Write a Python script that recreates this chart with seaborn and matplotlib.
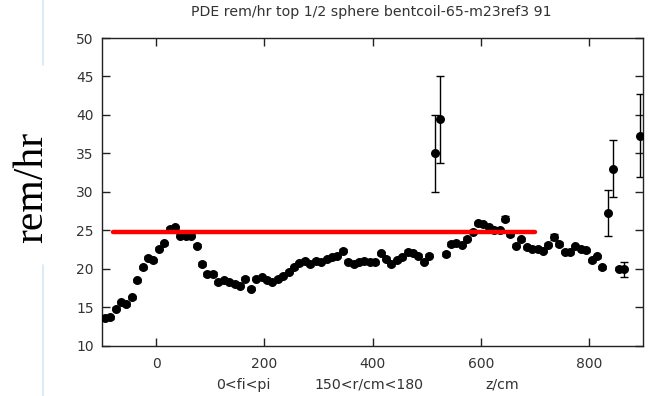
import numpy as np
import pandas as pd
import matplotlib
matplotlib.use("Agg")
import matplotlib.pyplot as plt
from matplotlib.lines import Line2D
import seaborn as sns

# bin centres along z (cm)
z_cm = [-95, -85, -75, -65, -55, -45, -35, -25, -15, -5,
        5, 15, 25, 35, 45, 55, 65, 75, 85, 95,
        105, 115, 125, 135, 145, 155, 165, 175, 185, 195,
        205, 215, 225, 235, 245, 255, 265, 275, 285, 295,
        305, 315, 325, 335, 345, 355, 365, 375, 385, 395,
        405, 415, 425, 435, 445, 455, 465, 475, 485, 495,
        505, 515, 525, 535, 545, 555, 565, 575, 585, 595,
        605, 615, 625, 635, 645, 655, 665, 675, 685, 695,
        705, 715, 725, 735, 745, 755, 765, 775, 785, 795,
        805, 815, 825, 835, 845, 855, 865, 895]

# dose rate per bin (rem/hr)
dose = [13.6, 13.7, 14.8, 15.6, 15.4, 16.3, 18.5, 20.2, 21.4, 21.1,
        22.6, 23.3, 25.2, 25.4, 24.3, 24.3, 24.3, 23.0, 20.6, 19.3,
        19.3, 18.2, 18.5, 18.3, 18.0, 17.8, 18.7, 17.4, 18.7, 18.9,
        18.5, 18.3, 18.7, 19.1, 19.6, 20.2, 20.7, 21.0, 20.6, 21.0,
        20.9, 21.2, 21.5, 21.7, 22.3, 20.9, 20.6, 20.9, 21.0, 20.8,
        20.8, 22.0, 21.3, 20.6, 21.1, 21.5, 22.2, 22.0, 21.7, 20.9,
        21.7, 35.0, 39.4, 21.9, 23.2, 23.3, 23.1, 23.9, 24.8, 25.9,
        25.8, 25.4, 25.0, 25.0, 26.5, 24.5, 23.0, 23.8, 22.8, 22.6,
        22.5, 22.3, 23.1, 24.1, 23.2, 22.2, 22.1, 22.9, 22.6, 22.4,
        21.1, 21.6, 20.2, 27.2, 33.0, 20.0, 19.9, 37.3]

# statistical uncertainty per bin (rem/hr)
dose_err = [0.2, 0.2, 0.2, 0.2, 0.2, 0.2, 0.2, 0.2, 0.2, 0.2,
            0.2, 0.2, 0.2, 0.2, 0.2, 0.2, 0.2, 0.2, 0.2, 0.2,
            0.2, 0.2, 0.2, 0.2, 0.2, 0.2, 0.2, 0.2, 0.2, 0.2,
            0.2, 0.2, 0.2, 0.2, 0.2, 0.2, 0.2, 0.2, 0.2, 0.2,
            0.2, 0.2, 0.2, 0.2, 0.2, 0.2, 0.2, 0.2, 0.2, 0.2,
            0.2, 0.2, 0.2, 0.2, 0.2, 0.2, 0.2, 0.2, 0.2, 0.2,
            0.2, 5.0, 5.6, 0.2, 0.2, 0.2, 0.2, 0.2, 0.2, 0.2,
            0.2, 0.2, 0.2, 0.2, 0.35, 0.2, 0.2, 0.2, 0.2, 0.2,
            0.2, 0.2, 0.2, 0.35, 0.2, 0.2, 0.2, 0.2, 0.2, 0.2,
            0.2, 0.2, 0.2, 3.0, 3.7, 0.2, 1.0, 5.4]

# reference level
ref_z = [-80, 700]
ref_level = [24.7, 24.7]

x_ticks = [0, 200, 400, 600, 800]
y_ticks = [10, 15, 20, 25, 30, 35, 40, 45, 50]

sns.set_style("ticks")
plt.rcParams["font.family"] = ["DejaVu Sans"]

df = pd.DataFrame({"z": z_cm, "dose": dose, "err": dose_err})
ref = pd.DataFrame({"z": ref_z, "level": ref_level})

W, H = 650, 396
fig = plt.figure(figsize=(W / 100, H / 100), dpi=100)
ax = fig.add_axes([102 / W, 1 - 345.5 / H, 541 / W, 307.5 / H])

ax.errorbar(df["z"], df["dose"], yerr=df["err"], fmt="none",
            ecolor="black", elinewidth=1.0, capsize=3, capthick=1.0, zorder=2)
sns.scatterplot(data=df, x="z", y="dose", ax=ax, color="black",
                s=42, edgecolor="black", linewidth=0, zorder=3, legend=False)
sns.lineplot(data=ref, x="z", y="level", ax=ax, color="#ff0000",
             linewidth=3.2, zorder=4, legend=False)

ax.set_xlim(-100, 900)
ax.set_ylim(10, 50)
ax.set_xticks(x_ticks)
ax.set_yticks(y_ticks)
ax.set_xlabel("")
ax.set_ylabel("")
ax.tick_params(direction="in", length=6, width=1, top=True, right=True,
               labelsize=10, labelcolor="#333333", color="#222222")
ax.tick_params(axis="y", pad=6)
ax.tick_params(axis="x", pad=8)
for sp in ax.spines.values():
    sp.set_visible(True)
    sp.set_linewidth(1.0)
    sp.set_color("#222222")

fig.text(371 / W, 1 - 12 / H, "PDE rem/hr top 1/2 sphere bentcoil-65-m23ref3 91",
         ha="center", va="center", fontsize=10.2, color="#333333")

for xpos, txt in [(243, "0<fi<pi"), (369, "150<r/cm<180"), (502, "z/cm")]:
    fig.text(xpos / W, 1 - 385 / H, txt, ha="center", va="center",
             fontsize=10.2, color="#333333")

# faint guide line at the far left, broken around the axis title
for y0, y1 in [(0, 65), (265, H)]:
    fig.add_artist(Line2D([42.5 / W, 42.5 / W], [1 - y0 / H, 1 - y1 / H],
                          transform=fig.transFigure, color="#d4e6f3",
                          linewidth=1.2, zorder=0))
fig.text(32 / W, 1 - 187 / H, "rem/hr", rotation=90, ha="center", va="center",
         fontsize=30, family=["Liberation Serif", "DejaVu Serif"], color="black")

fig.savefig("out.png", dpi=100)
